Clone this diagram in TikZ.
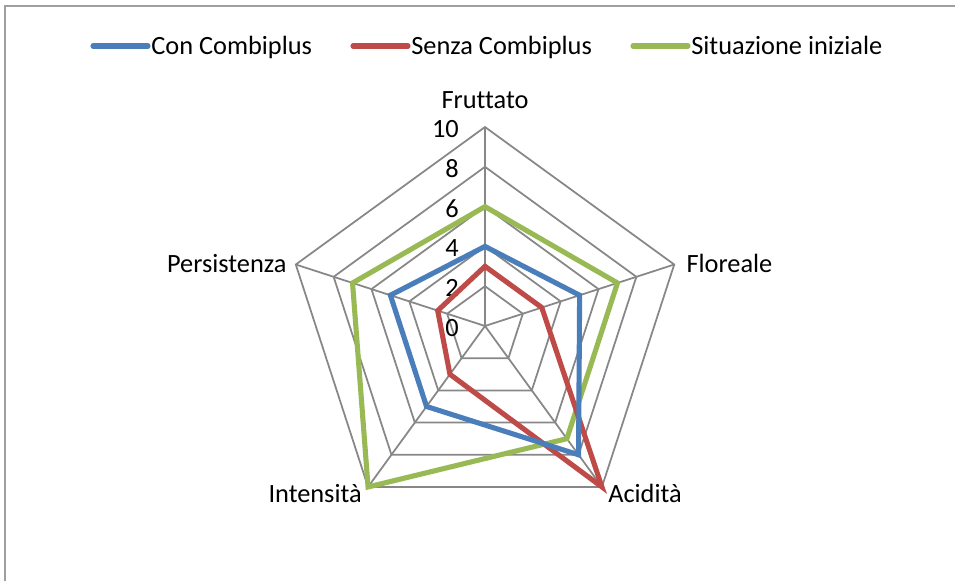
\documentclass[tikz,border=0pt]{standalone}
\usepackage{fontspec}
\setmainfont{Carlito}[Ligatures=NoCommon]
\usepackage{tikz}

\definecolor{conblue}{HTML}{4A7EBB}
\definecolor{senzared}{HTML}{BE4B48}
\definecolor{inizgreen}{HTML}{98B954}
\definecolor{gridgray}{HTML}{878787}

\tikzset{
  griglia/.style={gridgray,line width=1pt},
  serie/.style={line width=2.9pt,line join=miter},
  etichetta/.style={inner sep=0pt,text=black}
}

\begin{document}
\begin{tikzpicture}[x=0.02cm,y=0.02cm,font=\fontsize{15}{18}\selectfont]
\useasboundingbox (0,0) rectangle (955,581);
\draw[gridgray!80,line width=1.4pt] (5,0) -- (5,575) -- (955,575);

% legenda
\coordinate (conA) at (93,535);   \coordinate (conB) at (148,535);
\coordinate (senA) at (353,535);  \coordinate (senB) at (408,535);
\coordinate (iniA) at (633,535);  \coordinate (iniB) at (688,535);
\draw[serie,conblue,line cap=round] (conA) -- (conB);
\draw[serie,senzared,line cap=round] (senA) -- (senB);
\draw[serie,inizgreen,line cap=round] (iniA) -- (iniB);
\node[etichetta,anchor=base west] (conT) at ([shift={(3,-9)}]conB) {Con Combiplus};
\node[etichetta,anchor=base west] (senT) at ([shift={(3,-9)}]senB) {Senza Combiplus};
\node[etichetta,anchor=base west] (iniT) at ([shift={(3,-9)}]iniB) {Situazione iniziale};

\begin{scope}[shift={(485,255)},x=0.398cm,y=0.398cm]
\foreach \r in {2,4,...,10}
   \draw[griglia] (90:\r) -- (18:\r) -- (-54:\r) -- (-126:\r) -- (162:\r) -- cycle;
\foreach \a in {90,18,-54,-126,162}
   \draw[griglia] (0,0) -- (\a:10);
\foreach \v in {0,2,...,10}
   \node[etichetta,anchor=base east] (tick\v) at (-1.3,\v-0.53) {\v};

% assi
\node[etichetta,anchor=base] (fruttato) at (0,10.95) {Fruttato};
\node[etichetta,anchor=base west] (floreale) at ([shift={(0.6,-0.4)}]18:10) {Floreale};
\node[etichetta,anchor=base west] (acidita) at ([shift={(0.3,-0.8)}]-54:10) {Acidità};
\node[etichetta,anchor=base east] (intensita) at ([shift={(-0.3,-0.8)}]-126:10) {Intensità};
\node[etichetta,anchor=base east] (persistenza) at ([shift={(-0.45,-0.4)}]162:10) {Persistenza};

% serie
\draw[serie,inizgreen] (90:6) -- (18:7) -- (-54:7) -- (-126:10) -- (162:7) -- cycle;
\draw[serie,senzared] (90:3) -- (18:3) -- (-54:10) -- (-126:3) -- (162:2.5) -- cycle;
\draw[serie,conblue] (90:4) -- (18:5) -- (-54:8) -- (-126:5) -- (162:5) -- cycle;
\end{scope}
\end{tikzpicture}
\end{document}
